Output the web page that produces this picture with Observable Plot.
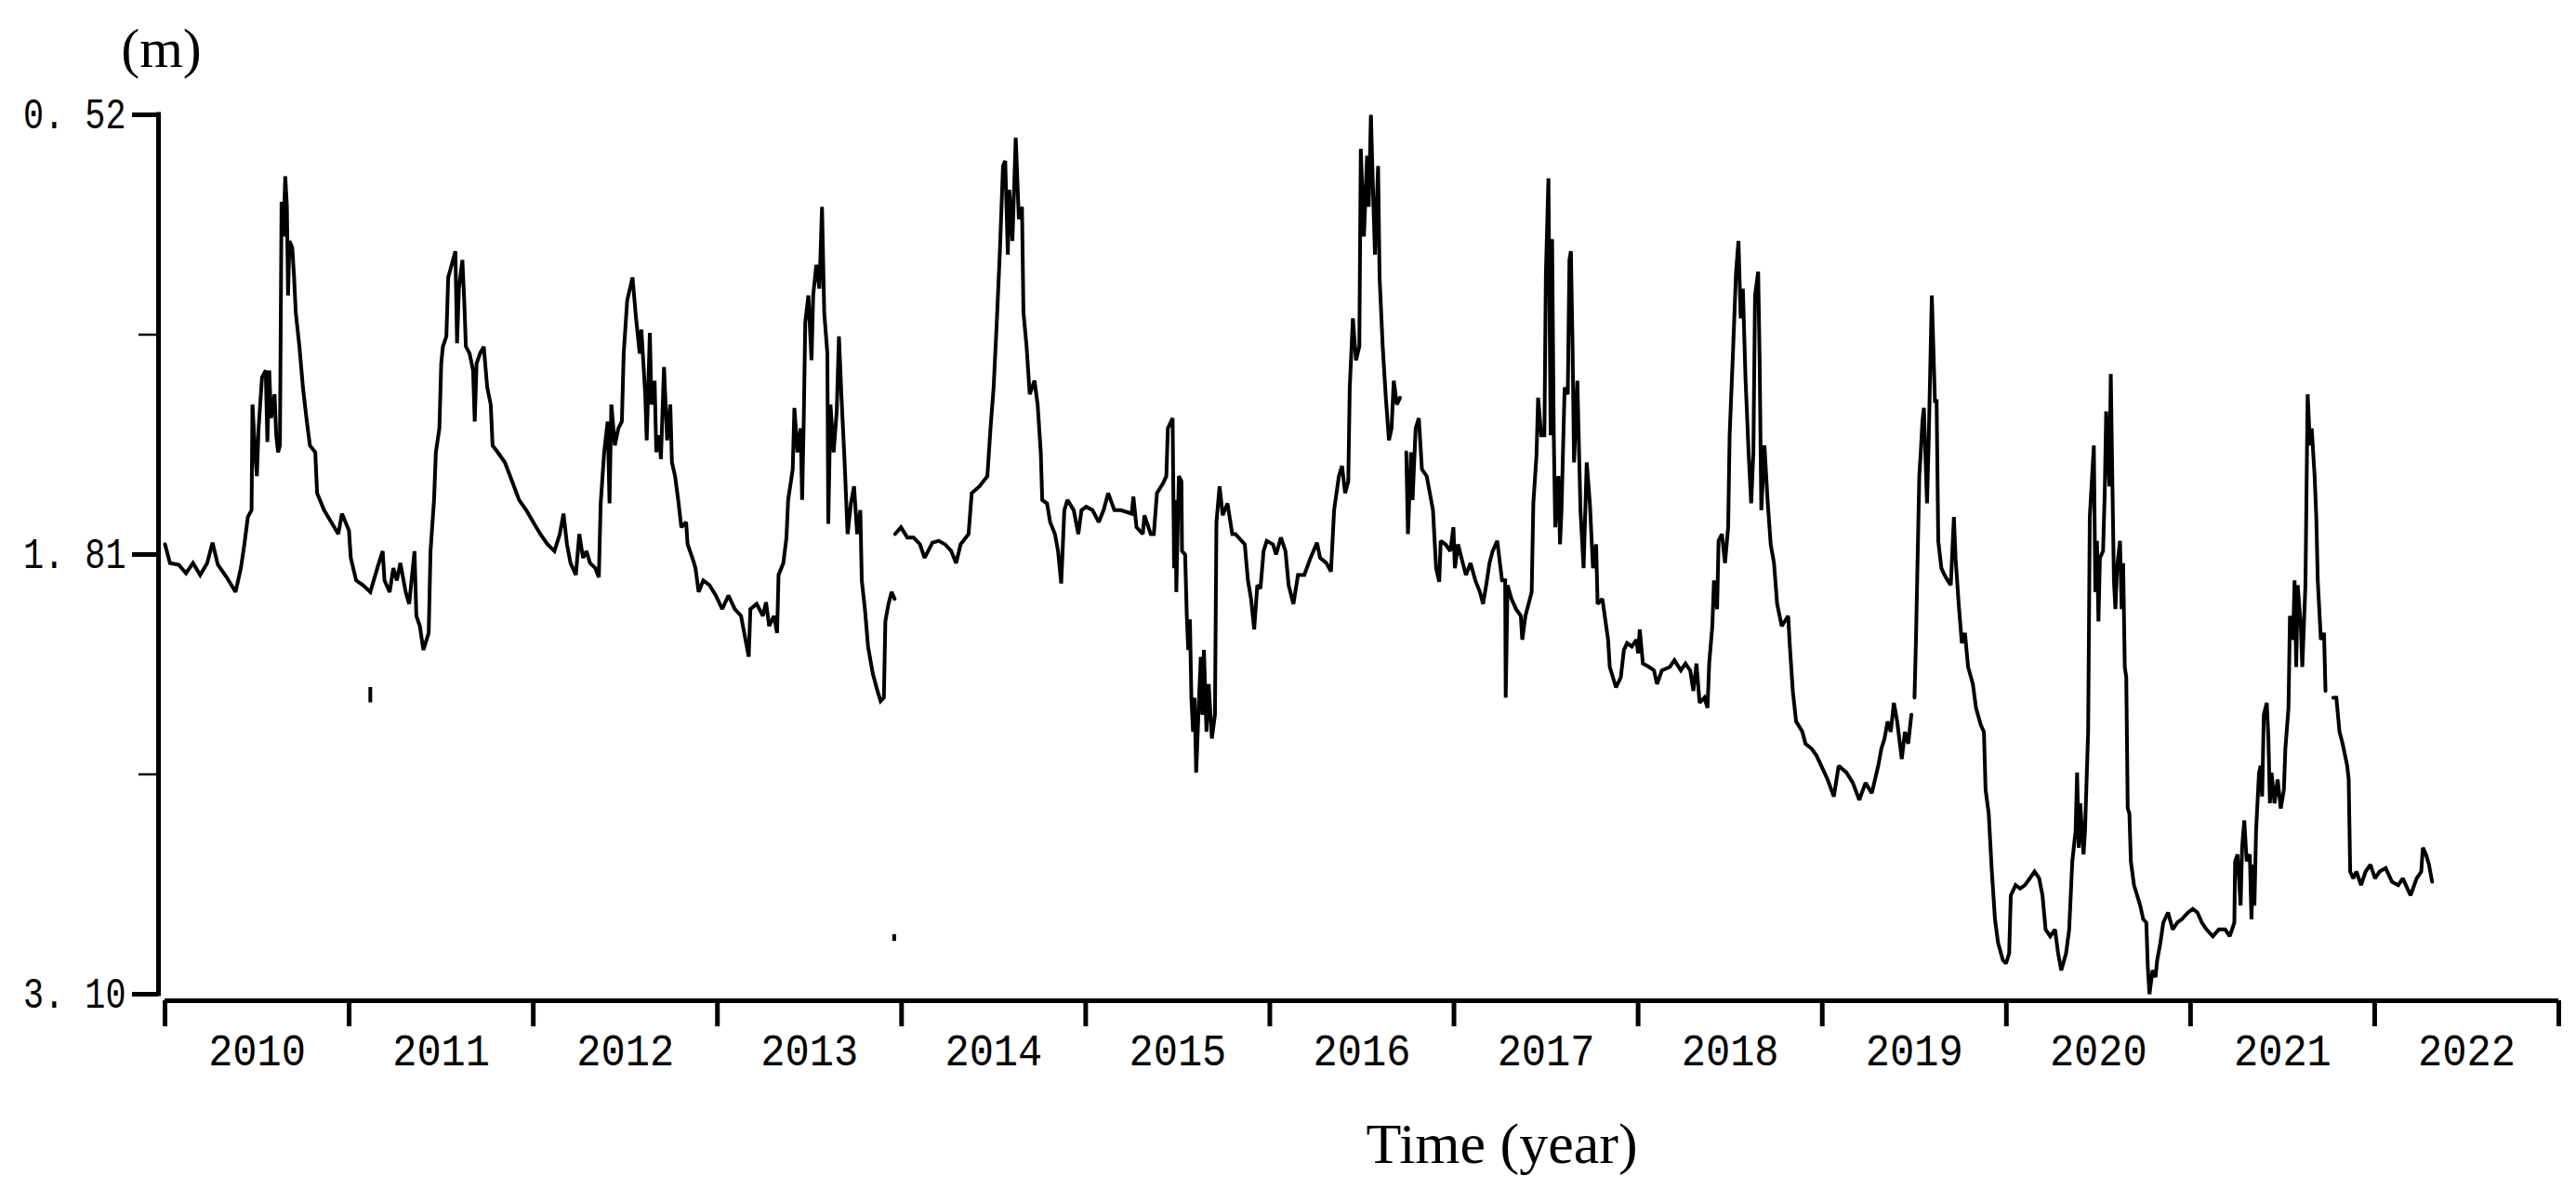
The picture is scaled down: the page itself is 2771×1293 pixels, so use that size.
<!DOCTYPE html>
<html>
<head>
<meta charset="utf-8">
<script src="https://cdn.jsdelivr.net/npm/d3@7"></script>
<script src="https://cdn.jsdelivr.net/npm/@observablehq/plot@0.6"></script>
<style>
html, body { margin: 0; padding: 0; background: #fff; }
#chart svg { display: block; }
</style>
</head>
<body>
<div id="chart"></div>
<script>
// ---- Data: groundwater depth (m), time in decimal years ----
const seg2010to2013 = [
[2010.000,1.78],[2010.027,1.835],[2010.075,1.84],[2010.114,1.865],[2010.152,1.835],[2010.191,1.87],
[2010.229,1.835],[2010.258,1.775],[2010.287,1.84],[2010.335,1.877],[2010.383,1.92],[2010.412,1.85],
[2010.431,1.78],[2010.450,1.70],[2010.470,1.68],[2010.475,1.37],[2010.489,1.51],[2010.499,1.58],
[2010.508,1.44],[2010.527,1.29],[2010.547,1.27],[2010.556,1.48],[2010.566,1.27],[2010.576,1.41],
[2010.595,1.34],[2010.604,1.46],[2010.614,1.51],[2010.624,1.49],[2010.633,0.775],[2010.643,0.877],
[2010.653,0.70],[2010.662,0.79],[2010.668,1.05],[2010.676,0.89],[2010.691,0.91],[2010.701,0.997],
[2010.710,1.10],[2010.730,1.20],[2010.749,1.32],[2010.768,1.41],[2010.787,1.49],[2010.816,1.51],
[2010.826,1.63],[2010.864,1.68],[2010.903,1.715],[2010.941,1.75],[2010.961,1.69],[2010.999,1.74],
[2011.009,1.82],[2011.038,1.886],[2011.076,1.90],[2011.115,1.92],[2011.153,1.85],[2011.182,1.80],
[2011.192,1.886],[2011.220,1.92],[2011.240,1.85],[2011.259,1.886],[2011.278,1.835],[2011.307,1.92],
[2011.326,1.955],[2011.355,1.80],[2011.365,1.99],[2011.384,2.02],[2011.403,2.09],[2011.432,2.04],
[2011.442,1.80],[2011.461,1.65],[2011.471,1.51],[2011.490,1.44],[2011.500,1.25],[2011.509,1.20],
[2011.528,1.17],[2011.538,0.997],[2011.557,0.96],[2011.577,0.92],[2011.586,1.19],[2011.596,1.03],
[2011.615,0.946],[2011.625,1.065],[2011.634,1.20],[2011.654,1.22],[2011.673,1.27],[2011.682,1.42],
[2011.692,1.25],[2011.711,1.22],[2011.731,1.20],[2011.750,1.32],[2011.769,1.37],[2011.779,1.49],
[2011.807,1.51],[2011.846,1.54],[2011.885,1.595],[2011.923,1.65],[2011.962,1.68],[2012.000,1.715],
[2012.038,1.75],[2012.077,1.78],[2012.115,1.80],[2012.144,1.75],[2012.164,1.69],[2012.183,1.78],
[2012.202,1.835],[2012.231,1.87],[2012.250,1.75],[2012.270,1.82],[2012.289,1.80],[2012.308,1.835],
[2012.337,1.85],[2012.356,1.877],[2012.366,1.66],[2012.385,1.51],[2012.404,1.42],[2012.414,1.66],
[2012.424,1.37],[2012.443,1.49],[2012.462,1.44],[2012.481,1.42],[2012.491,1.22],[2012.510,1.065],
[2012.539,0.997],[2012.558,1.117],[2012.578,1.22],[2012.587,1.15],[2012.608,1.34],[2012.616,1.475],
[2012.633,1.16],[2012.642,1.37],[2012.659,1.30],[2012.668,1.51],[2012.685,1.46],[2012.693,1.53],
[2012.710,1.26],[2012.727,1.475],[2012.744,1.37],[2012.753,1.54],[2012.770,1.58],[2012.787,1.65],
[2012.804,1.73],[2012.830,1.715],[2012.838,1.78],[2012.864,1.82],[2012.881,1.85],[2012.898,1.92],
[2012.923,1.886],[2012.957,1.90],[2012.991,1.93],[2013.026,1.97],[2013.060,1.93],[2013.094,1.97],
[2013.128,1.99],[2013.170,2.11],[2013.179,1.97],[2013.213,1.955],[2013.247,1.99],[2013.264,1.95],
[2013.281,2.02],[2013.307,1.99],[2013.324,2.04],[2013.332,1.87],[2013.358,1.835],[2013.375,1.76],
[2013.384,1.65],[2013.409,1.56],[2013.418,1.38],[2013.435,1.51],[2013.452,1.44],[2013.460,1.65],
[2013.469,1.41],[2013.477,1.13],[2013.494,1.05],[2013.511,1.24],[2013.520,1.05],[2013.537,0.96],
[2013.554,1.03],[2013.568,0.79],[2013.580,1.10],[2013.597,1.22],[2013.602,1.72],[2013.614,1.37],
[2013.631,1.51],[2013.648,1.39],[2013.660,1.17],[2013.673,1.34],[2013.690,1.53],[2013.707,1.75],
[2013.725,1.66],[2013.742,1.61],[2013.759,1.75],[2013.776,1.68],[2013.784,1.886],[2013.801,1.97],
[2013.818,2.08],[2013.844,2.16],[2013.869,2.21],[2013.886,2.24],[2013.904,2.23],[2013.912,2.006],
[2013.929,1.955],[2013.946,1.92],[2013.962,1.94]
];

const seg2014to2016 = [
[2013.965,1.75],[2013.997,1.73],[2014.031,1.76],[2014.065,1.76],[2014.100,1.78],[2014.125,1.82],
[2014.168,1.775],[2014.202,1.77],[2014.236,1.78],[2014.270,1.80],[2014.296,1.835],[2014.321,1.78],
[2014.364,1.75],[2014.381,1.63],[2014.423,1.61],[2014.466,1.58],[2014.483,1.44],[2014.500,1.32],
[2014.517,1.13],[2014.534,0.92],[2014.551,0.67],[2014.563,0.655],[2014.577,0.93],[2014.585,0.74],
[2014.602,0.89],[2014.620,0.587],[2014.637,0.826],[2014.654,0.79],[2014.662,1.10],[2014.679,1.20],
[2014.696,1.34],[2014.722,1.30],[2014.739,1.37],[2014.756,1.51],[2014.764,1.65],[2014.790,1.66],
[2014.807,1.715],[2014.833,1.75],[2014.850,1.80],[2014.867,1.895],[2014.884,1.68],[2014.901,1.65],
[2014.935,1.68],[2014.960,1.75],[2014.977,1.68],[2015.003,1.67],[2015.037,1.68],[2015.071,1.715],
[2015.097,1.68],[2015.122,1.63],[2015.156,1.68],[2015.191,1.68],[2015.250,1.69],[2015.259,1.64],
[2015.276,1.73],[2015.310,1.75],[2015.319,1.695],[2015.353,1.75],[2015.370,1.75],[2015.387,1.63],
[2015.421,1.60],[2015.438,1.58],[2015.446,1.44],[2015.472,1.41],[2015.480,1.85],[2015.489,1.65],
[2015.492,1.92],[2015.506,1.58],[2015.520,1.595],[2015.523,1.80],[2015.540,1.81],[2015.549,1.99],
[2015.557,2.09],[2015.566,2.00],[2015.574,2.23],[2015.583,2.33],[2015.591,2.23],[2015.600,2.45],
[2015.612,2.28],[2015.625,2.11],[2015.634,2.28],[2015.642,2.09],[2015.656,2.33],[2015.668,2.19],
[2015.685,2.35],[2015.702,2.28],[2015.710,1.715],[2015.727,1.61],[2015.744,1.695],[2015.770,1.66],
[2015.796,1.75],[2015.813,1.75],[2015.847,1.77],[2015.864,1.78],[2015.881,1.886],[2015.898,1.94],
[2015.915,2.03],[2015.932,1.90],[2015.949,1.91],[2015.966,1.80],[2015.983,1.77],[2016.017,1.78],
[2016.034,1.81],[2016.060,1.76],[2016.085,1.80],[2016.102,1.90],[2016.128,1.955],[2016.153,1.87],
[2016.187,1.87],[2016.221,1.82],[2016.256,1.775],[2016.273,1.82],[2016.307,1.835],[2016.332,1.86],
[2016.349,1.68],[2016.375,1.58],[2016.392,1.55],[2016.409,1.63],[2016.426,1.595],[2016.434,1.32],
[2016.451,1.117],[2016.468,1.24],[2016.486,1.20],[2016.494,0.62],[2016.511,0.877],[2016.528,0.64],
[2016.537,0.79],[2016.549,0.52],[2016.562,0.775],[2016.571,0.93],[2016.588,0.67],[2016.596,0.997],
[2016.613,1.20],[2016.630,1.35],[2016.647,1.475],[2016.661,1.44],[2016.673,1.30],[2016.690,1.37],
[2016.707,1.35]
];

const seg2016to2019 = [
[2016.741,1.51],[2016.750,1.75],[2016.767,1.51],[2016.775,1.65],[2016.792,1.44],[2016.809,1.41],
[2016.826,1.56],[2016.852,1.58],[2016.886,1.68],[2016.903,1.85],[2016.920,1.89],[2016.928,1.77],
[2016.954,1.78],[2016.980,1.80],[2016.997,1.73],[2017.005,1.85],[2017.022,1.78],[2017.048,1.835],
[2017.065,1.87],[2017.090,1.835],[2017.116,1.886],[2017.141,1.92],[2017.158,1.955],[2017.175,1.90],
[2017.193,1.835],[2017.210,1.80],[2017.235,1.77],[2017.261,1.886],[2017.278,1.886],[2017.281,2.23],
[2017.291,1.90],[2017.312,1.94],[2017.337,1.97],[2017.363,1.99],[2017.371,2.06],[2017.388,1.99],
[2017.405,1.955],[2017.422,1.92],[2017.431,1.66],[2017.448,1.52],[2017.457,1.35],[2017.474,1.46],
[2017.491,1.46],[2017.499,0.99],[2017.513,0.706],[2017.525,1.46],[2017.533,0.885],[2017.542,1.46],
[2017.550,1.73],[2017.567,1.58],[2017.576,1.78],[2017.584,1.68],[2017.601,1.32],[2017.618,1.34],
[2017.627,0.946],[2017.635,0.92],[2017.644,1.20],[2017.652,1.54],[2017.670,1.30],[2017.687,1.68],
[2017.704,1.85],[2017.721,1.54],[2017.738,1.66],[2017.755,1.85],[2017.772,1.78],[2017.780,1.955],
[2017.806,1.94],[2017.837,2.06],[2017.846,2.14],[2017.880,2.20],[2017.906,2.17],[2017.923,2.09],
[2017.940,2.07],[2017.966,2.08],[2017.991,2.06],[2018.000,2.10],[2018.009,2.03],[2018.026,2.13],
[2018.060,2.14],[2018.086,2.15],[2018.103,2.19],[2018.129,2.15],[2018.172,2.14],[2018.197,2.12],
[2018.232,2.15],[2018.257,2.13],[2018.283,2.15],[2018.300,2.21],[2018.317,2.13],[2018.334,2.245],
[2018.360,2.23],[2018.377,2.26],[2018.386,2.13],[2018.403,2.02],[2018.412,1.886],[2018.429,1.97],
[2018.437,1.77],[2018.455,1.75],[2018.472,1.835],[2018.489,1.73],[2018.497,1.46],[2018.515,1.22],
[2018.532,0.98],[2018.545,0.89],[2018.557,1.117],[2018.569,1.03],[2018.583,1.29],[2018.600,1.51],
[2018.614,1.66],[2018.626,1.51],[2018.635,1.05],[2018.652,0.98],[2018.660,1.24],[2018.669,1.68],
[2018.686,1.49],[2018.703,1.65],[2018.720,1.78],[2018.738,1.835],[2018.755,1.955],[2018.780,2.02],
[2018.815,1.99],[2018.823,2.07],[2018.840,2.21],[2018.858,2.30],[2018.892,2.33],[2018.909,2.365],
[2018.943,2.38],[2018.969,2.40],[2018.995,2.43],[2019.029,2.47],[2019.063,2.52],[2019.089,2.43],
[2019.132,2.45],[2019.166,2.48],[2019.201,2.53],[2019.235,2.48],[2019.269,2.51],[2019.304,2.43],
[2019.321,2.38],[2019.338,2.35],[2019.355,2.30],[2019.372,2.33],[2019.389,2.245],[2019.407,2.30],
[2019.432,2.41],[2019.449,2.33],[2019.467,2.365],[2019.484,2.28]
];

const seg2019to2021 = [
[2019.501,2.23],[2019.509,2.06],[2019.527,1.58],[2019.535,1.51],[2019.544,1.42],[2019.552,1.38],
[2019.569,1.66],[2019.578,1.48],[2019.595,1.05],[2019.612,1.36],[2019.621,1.36],[2019.630,1.77],
[2019.647,1.85],[2019.664,1.87],[2019.681,1.886],[2019.698,1.90],[2019.715,1.70],[2019.724,1.82],
[2019.741,1.955],[2019.758,2.07],[2019.775,2.04],[2019.792,2.14],[2019.818,2.19],[2019.835,2.26],
[2019.861,2.31],[2019.878,2.33],[2019.887,2.50],[2019.904,2.57],[2019.921,2.74],[2019.938,2.88],
[2019.955,2.95],[2019.981,3.00],[2019.998,3.01],[2020.015,2.98],[2020.024,2.81],[2020.050,2.78],
[2020.075,2.79],[2020.101,2.78],[2020.127,2.76],[2020.153,2.74],[2020.178,2.76],[2020.196,2.81],
[2020.213,2.91],[2020.238,2.93],[2020.264,2.91],[2020.281,2.98],[2020.298,3.03],[2020.324,2.98],
[2020.341,2.91],[2020.358,2.71],[2020.376,2.62],[2020.384,2.45],[2020.393,2.67],[2020.401,2.54],
[2020.419,2.69],[2020.427,2.62],[2020.444,2.33],[2020.453,1.70],[2020.475,1.49],[2020.483,1.92],
[2020.492,1.77],[2020.500,2.006],[2020.508,1.82],[2020.525,1.80],[2020.534,1.63],[2020.542,1.39],
[2020.559,1.61],[2020.567,1.28],[2020.576,1.61],[2020.584,1.886],[2020.592,1.97],[2020.601,1.85],
[2020.617,1.77],[2020.626,1.97],[2020.634,1.835],[2020.643,2.14],[2020.651,2.17],[2020.659,2.555],
[2020.668,2.57],[2020.676,2.71],[2020.693,2.78],[2020.710,2.81],[2020.727,2.84],[2020.743,2.88],
[2020.760,2.89],[2020.768,3.02],[2020.777,3.10],[2020.794,3.03],[2020.810,3.05],[2020.819,3.00],
[2020.836,2.95],[2020.852,2.89],[2020.878,2.86],[2020.903,2.91],[2020.928,2.89],[2020.953,2.88],
[2020.987,2.86],[2021.012,2.85],[2021.037,2.86],[2021.062,2.89],[2021.087,2.91],[2021.121,2.93],
[2021.154,2.91],[2021.188,2.91],[2021.213,2.93],[2021.238,2.89],[2021.242,2.71],[2021.255,2.69],
[2021.272,2.84],[2021.280,2.67],[2021.292,2.59],[2021.305,2.71],[2021.322,2.69],[2021.331,2.88],
[2021.339,2.72],[2021.347,2.84],[2021.356,2.62],[2021.372,2.45],[2021.381,2.43],[2021.389,2.52],
[2021.398,2.28],[2021.414,2.245],[2021.423,2.35],[2021.431,2.54],[2021.440,2.45],[2021.456,2.54],
[2021.473,2.47],[2021.490,2.555],[2021.507,2.50],[2021.515,2.38],[2021.532,2.26],[2021.540,1.99],
[2021.557,2.06],[2021.565,1.886],[2021.574,2.14],[2021.582,1.90],[2021.599,2.02],[2021.607,2.14],
[2021.624,1.90],[2021.636,1.34],[2021.649,1.49],[2021.658,1.44],[2021.674,1.58],[2021.683,1.70],
[2021.691,1.886],[2021.708,2.06],[2021.725,2.04],[2021.733,2.21]
];

const seg2021to2022 = [
[2021.775,2.23],[2021.792,2.23],[2021.809,2.33],[2021.826,2.365],[2021.851,2.43],[2021.859,2.47],
[2021.867,2.74],[2021.884,2.76],[2021.901,2.74],[2021.926,2.78],[2021.951,2.74],[2021.977,2.72],
[2022.002,2.76],[2022.027,2.74],[2022.060,2.73],[2022.094,2.77],[2022.128,2.78],[2022.153,2.76],
[2022.178,2.79],[2022.195,2.81],[2022.228,2.76],[2022.253,2.74],[2022.262,2.67],[2022.279,2.69],
[2022.295,2.72],[2022.312,2.77]
];

// isolated readings (short marks away from the line)
const outlierTime   = [2011.115, 2013.960];
const outlierTop    = [2.20, 2.925];
const outlierBottom = [2.245, 2.945];

// axes
const yTicks       = [0.52, 1.81, 3.10];
const yTickLabels  = ["0. 52", "1. 81", "3. 10"];
const yMinorTicks  = [1.165, 2.455];
const yearBounds   = [2010, 2011, 2012, 2013, 2014, 2015, 2016, 2017, 2018, 2019, 2020, 2021, 2022, 2023];
const yearLabelPos = [2010.5, 2011.5, 2012.5, 2013.5, 2014.5, 2015.5, 2016.5, 2017.5, 2018.5, 2019.5, 2020.5, 2021.5, 2022.5];
const yearLabels   = ["2010","2011","2012","2013","2014","2015","2016","2017","2018","2019","2020","2021","2022"];
const yUnit  = "(m)";
const xTitle = "Time (year)";

// ---- build ----
const segments = [seg2010to2013, seg2014to2016, seg2016to2019, seg2019to2021, seg2021to2022];
const series = segments.flatMap((seg, k) => seg.map(([t, d]) => ({t, d, seg: k})));
const outliers = outlierTime.map((t, i) => ({t, top: outlierTop[i], bottom: outlierBottom[i]}));

const mono = "'Liberation Mono', 'DejaVu Sans Mono', monospace";
const serif = "'Liberation Serif', 'Times New Roman', serif";

const chart = Plot.plot({
  width: 2771,
  height: 1293,
  marginLeft: 170,
  marginRight: 19,
  marginTop: 123,
  marginBottom: 217,
  x: {domain: [2010, 2023], range: [177, 2752], label: null},
  y: {domain: [0.52, 3.10], range: [123, 1069], label: null},
  style: {background: "#fff", color: "#000", overflow: "visible"},
  marks: [
    Plot.line(series, {x: "t", y: "d", z: "seg", stroke: "#000", strokeWidth: 4, strokeLinejoin: "miter", strokeMiterlimit: 2}),
    Plot.ruleX(outliers, {x: "t", y1: "top", y2: "bottom", stroke: "#000", strokeWidth: 4}),
    // y axis line
    Plot.ruleX([2010], {y1: 0.52, y2: 3.10, dx: -7, stroke: "#000", strokeWidth: 5, strokeLinecap: "square"}),
    // x axis line
    Plot.ruleY([3.10], {x1: 2010, x2: 2023, dy: 7, stroke: "#000", strokeWidth: 5}),
    Plot.axisY({ticks: yTicks, anchor: "left", tickSize: 28, tickPadding: 7, strokeWidth: 5,
      tickFormat: d => yTickLabels[yTicks.indexOf(d)], fontSize: 46, fontFamily: mono, label: null}),
    Plot.axisY({ticks: yMinorTicks, anchor: "left", tickSize: 21, strokeWidth: 2.5, fill: "none", label: null}),
    Plot.axisX({ticks: yearBounds, anchor: "bottom", tickSize: 28, strokeWidth: 5, fill: "none", label: null}),
    Plot.axisX({ticks: yearLabelPos, anchor: "bottom", tickSize: 0, tickPadding: 35,
      tickFormat: d => yearLabels[yearLabelPos.indexOf(d)], fontSize: 48, fontFamily: mono, label: null}),
    Plot.text([yUnit], {text: d => d, frameAnchor: "top-left", dx: 3, dy: -52, textAnchor: "middle",
      lineAnchor: "bottom", fontSize: 60, fontFamily: serif, fill: "#000"}),
    Plot.text([xTitle], {text: d => d, frameAnchor: "bottom", dx: 154, dy: 174, textAnchor: "middle",
      lineAnchor: "bottom", fontSize: 62, fontFamily: serif, fill: "#000"})
  ]
});

document.getElementById("chart").appendChild(chart);

// narrow the monospace tick labels horizontally to match the condensed digits of the original
function squeeze(el, sx) {
  const tr = el.getAttribute("transform");
  if (tr) {
    el.setAttribute("transform", tr + ` scale(${sx},1)`);
  } else {
    const x = +el.getAttribute("x") || 0;
    el.removeAttribute("x");
    el.setAttribute("transform", `translate(${x},0) scale(${sx},1)`);
  }
}
d3.select(chart).selectAll('g[aria-label="y-axis tick label"] text').each(function () { squeeze(this, 0.8); });
d3.select(chart).selectAll('g[aria-label="x-axis tick label"] text').each(function () { squeeze(this, 0.91); });
</script>
</body>
</html>
